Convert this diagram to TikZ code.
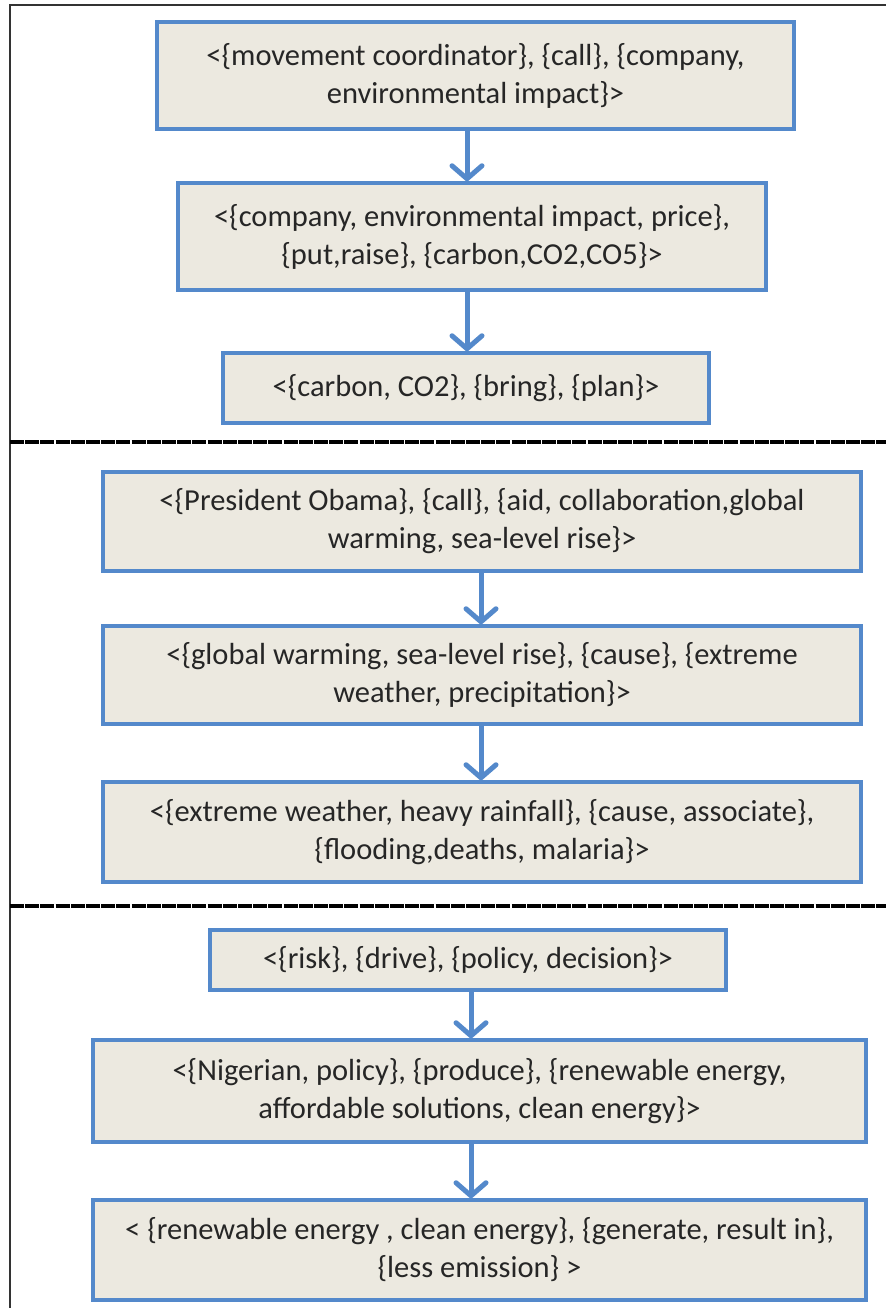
\documentclass[tikz,border=0pt]{standalone}
\usepackage{fontspec}
\setmainfont{Carlito}
\usepackage{tikz}
\usetikzlibrary{arrows.meta}
\definecolor{azul}{RGB}{84,137,203}
\definecolor{bege}{RGB}{236,233,224}
\definecolor{texto}{RGB}{38,38,38}

\begin{document}
\begin{tikzpicture}[x=1pt, y=-1pt]
\tikzstyle{caixa}=[rectangle, draw=azul, line width=3.5pt, fill=bege, text=texto, align=center, inner sep=0pt, font=\fontsize{30.5}{38}\selectfont]
\tikzstyle{seta}=[draw=azul, line width=5pt, -{Straight Barb[length=13pt, width=30pt, round]}]
\tikzstyle{separador}=[black, line width=4pt, dash pattern=on 14pt off 1.2pt]
\tikzstyle{moldura}=[black!80, line width=2pt]
\useasboundingbox (0,0) rectangle (886,1308);
 % moldura
 \draw[moldura] (10,1308) -- (10,5) -- (886,5);
 \draw[separador] (10,442) -- (886,442);
 \draw[separador] (10,906) -- (886,906);
 % primeiro bloco
 \node[caixa, minimum width=637pt, minimum height=107pt] (c1) at (475.5,75.5)
    {<\{movement coordinator\}, \{call\}, \{company,\\environmental impact\}>};
 \node[caixa, minimum width=588pt, minimum height=107pt] (c2) at (472,236.5)
    {<\{company, environmental impact, price\},\\\{put,raise\}, \{carbon,CO2,CO5\}>};
 \node[caixa, minimum width=486pt, minimum height=70pt] (c3) at (466,388)
    {<\{carbon, CO2\}, \{bring\}, \{plan\}>};
 % segundo bloco
 \node[caixa, minimum width=758pt, minimum height=99pt] (c4) at (482,521.5)
    {<\{President Obama\}, \{call\}, \{aid, collaboration,global\\warming, sea-level rise\}>};
 \node[caixa, minimum width=758pt, minimum height=98pt] (c5) at (482,675)
    {<\{global warming, sea-level rise\}, \{cause\}, \{extreme\\weather, precipitation\}>};
 \node[caixa, minimum width=758pt, minimum height=100pt] (c6) at (482,832)
    {<\{extreme weather, heavy rainfall\}, \{cause, associate\},\\\{flooding,deaths, malaria\}>};
 % terceiro bloco
 \node[caixa, minimum width=516pt, minimum height=60pt] (c7) at (468,960)
    {<\{risk\}, \{drive\}, \{policy, decision\}>};
 \node[caixa, minimum width=773pt, minimum height=102pt] (c8) at (479.5,1091)
    {<\{Nigerian, policy\}, \{produce\}, \{renewable energy,\\affordable solutions, clean energy\}>};
 \node[caixa, minimum width=773pt, minimum height=100pt] (c9) at (479.5,1250)
    {< \{renewable energy , clean energy\}, \{generate, result in\},\\\{less emission\} >};
 % setas
 \draw[seta] (c1.south -| 467,0) -- (c2.north -| 467,0);
 \draw[seta] (c2.south -| 467,0) -- (c3.north -| 467,0);
 \draw[seta] (c4.south -| 481,0) -- (c5.north -| 481,0);
 \draw[seta] (c5.south -| 481,0) -- (c6.north -| 481,0);
 \draw[seta] (c7.south -| 471,0) -- (c8.north -| 471,0);
 \draw[seta] (c8.south -| 471,0) -- (c9.north -| 471,0);
\end{tikzpicture}
\end{document}
